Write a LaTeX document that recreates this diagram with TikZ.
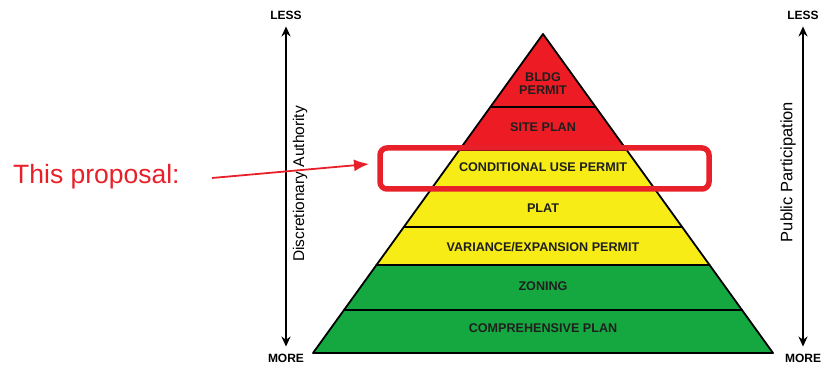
\documentclass[tikz,border=0pt]{standalone}
\usepackage{fontspec}
\setmainfont{Liberation Sans}
\usetikzlibrary{arrows.meta}
\definecolor{tierred}{RGB}{237,28,36}
\definecolor{tieryellow}{RGB}{247,236,22}
\definecolor{tiergreen}{RGB}{22,168,64}
\definecolor{notered}{RGB}{232,32,42}
\tikzset{
  tier/.style    ={draw=black, line width=1.8pt, line join=round},
  tierlbl/.style ={font=\fontsize{12.6}{13}\selectfont\bfseries, text=black!88, align=center, inner sep=0pt},
  endlbl/.style  ={font=\fontsize{12}{14}\selectfont\bfseries, inner sep=1pt},
  axislbl/.style ={rotate=90, inner sep=0pt},
  axis/.style    ={{Stealth[length=10pt,width=9pt]}-{Stealth[length=10pt,width=9pt]}, line width=1.8pt},
  hilite/.style  ={draw=notered, line width=5.5pt, rounded corners=7pt, minimum width=329pt, minimum height=41pt, inner sep=0pt},
  callout/.style ={-{Latex[length=15pt,width=12pt]}, draw=notered, line width=1.8pt},
}

\begin{document}
\begin{tikzpicture}[x=1pt,y=-1pt]
  \useasboundingbox (0,0) rectangle (824,366);
  % pyramid tiers: top y / bottom y / fill
  \foreach \ya/\yb/\col in {34/107/tierred,107/150/tierred,150/188/tieryellow,188/227/tieryellow,227/265/tieryellow,265/310/tiergreen,310/353/tiergreen}{
    \pgfmathsetmacro\wa{0.721*(\ya-34)}
    \pgfmathsetmacro\wb{0.721*(\yb-34)}
    \filldraw[tier, fill=\col] (543-\wa,\ya) -- (543+\wa,\ya) -- (543+\wb,\yb) -- (543-\wb,\yb) -- cycle;
  }
  \node[tierlbl] (bldg) at (543,83.5) {BLDG\\PERMIT};
  \node[tierlbl] (site) at (543,127) {SITE PLAN};
  \node[tierlbl] (cup) at (543,167) {CONDITIONAL USE PERMIT};
  \node[tierlbl] (plat) at (543,208) {PLAT};
  \node[tierlbl] (variance) at (543,247) {VARIANCE/EXPANSION PERMIT};
  \node[tierlbl] (zoning) at (543,286.5) {ZONING};
  \node[tierlbl] (comp) at (543,328) {COMPREHENSIVE PLAN};

  % highlight of the proposal tier
  \node[hilite] (propBox) at (544.5,168.5) {};

  % left axis
  \node[endlbl] (lessL) at (286,15.5) {LESS};
  \node[endlbl] (moreL) at (286,358.5) {MORE};
  \draw[axis, shorten <=5.5pt, shorten >=6.5pt] (lessL) -- (moreL);
  \node[axislbl, font=\fontsize{15.5}{18}\selectfont] (authority) at (300,184) {Discretionary Authority};

  % right axis
  \node[endlbl] (lessR) at (803,15.5) {LESS};
  \node[endlbl] (moreR) at (803,358.5) {MORE};
  \draw[axis, shorten <=5.5pt, shorten >=6.5pt] (lessR) -- (moreR);
  \node[axislbl, font=\fontsize{16.5}{18}\selectfont] (participation) at (788,172) {Public Participation};

  % callout
  \node[font=\fontsize{26.5}{30}\selectfont, text=notered, anchor=base west, inner sep=0pt] (propTxt) at (13,183) {This proposal:};
  \coordinate (calloutStart) at (212,178);
  \coordinate (calloutTip) at (369,164);
  \draw[callout] (calloutStart) -- (calloutTip);
\end{tikzpicture}
\end{document}
